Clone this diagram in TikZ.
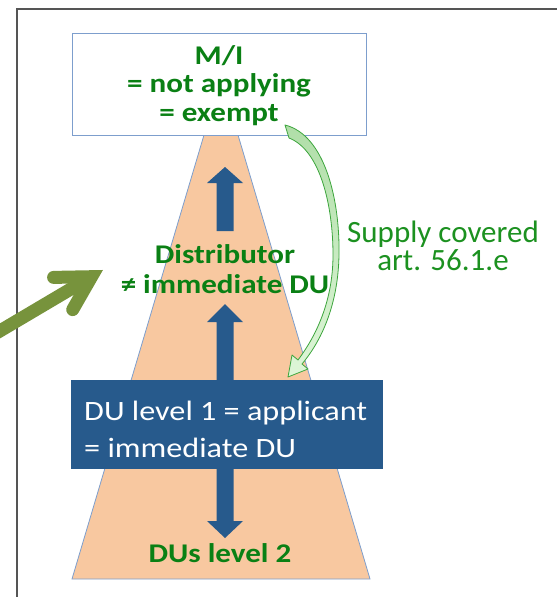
\documentclass[tikz,border=0pt]{standalone}
\usepackage{fontspec}
\setmainfont{Carlito}
\newfontfamily\widefont{Carlito}[FakeStretch=1.15]
\usetikzlibrary{shadings}

\definecolor{txtgreen}{RGB}{10,128,20}
\definecolor{notegreen}{RGB}{28,145,32}
\definecolor{peach}{RGB}{248,200,160}
\definecolor{edgeblue}{RGB}{125,158,205}
\definecolor{dublue}{RGB}{39,90,140}
\definecolor{olivearrow}{RGB}{119,147,60}
\definecolor{curvefillA}{RGB}{176,222,168}
\definecolor{curvefillB}{RGB}{222,246,216}
\definecolor{curvedraw}{RGB}{60,165,60}
\definecolor{framegray}{RGB}{85,85,85}

\tikzset{
  lbl/.style={text=txtgreen, align=center, inner sep=0pt},
  boldlbl/.style={lbl, font=\widefont\fontsize{27}{28.5}\selectfont\bfseries},
  blockarrow/.style={fill=dublue, draw=none},
}

\begin{document}
\begin{tikzpicture}[x=1pt, y=-1pt]
  \useasboundingbox (0,0) rectangle (557,597);

  % outer frame (top and left edges only are visible)
  \draw[framegray, line width=2pt] (17,597) -- (17,9) -- (557,9);

  % supply chain pyramid
  \draw[fill=peach, draw=edgeblue, line width=0.8pt]
    (204,135) -- (238,135) -- (370,579) -- (72,579) -- cycle;

  % top box
  \node[draw=edgeblue, fill=white, line width=0.8pt, minimum width=294pt,
        minimum height=102pt, inner sep=0pt] (mi) at (219,84) {};
  \node[boldlbl] (mitxt) at (219,85.5) {M/I\\= not applying\\= exempt};

  % level 1 box
  \node[fill=dublue, minimum width=312pt, minimum height=89pt, inner sep=0pt]
    (du1) at (227,424.5) {};
  \node[anchor=west, text=white, align=left, inner sep=0pt,
        font=\widefont\fontsize{28}{37}\selectfont] (du1txt) at (84,429)
    {DU level 1 = applicant\\= immediate DU};

  % blue block arrows
  \coordinate (a1t) at (225,167);
  \fill[blockarrow] (216.5,231) -- (216.5,183) -- (207,183) -- (a1t)
     -- (243,183) -- (233.5,183) -- (233.5,231) -- cycle;
  \coordinate (a2t) at (225,304);
  \fill[blockarrow] (216.5,380) -- (216.5,322) -- (207,322) -- (a2t)
     -- (243,322) -- (233.5,322) -- (233.5,380) -- cycle;
  \coordinate (a3t) at (225,538);
  \fill[blockarrow] (216.5,468) -- (216.5,521) -- (207,521) -- (a3t)
     -- (243,521) -- (233.5,521) -- (233.5,468) -- cycle;

  % labels inside the pyramid
  \node[boldlbl, font=\widefont\fontsize{27}{30}\selectfont\bfseries]
    (dist) at (225,269.5) {Distributor\\≠ immediate DU};
  \node[boldlbl] (du2) at (220,553) {DUs level 2};

  % curved supply arrow
  \path[top color=curvefillA, bottom color=curvefillB, draw=curvedraw,
        line width=0.8pt, line join=round]
    (285,125) .. controls (325,135) and (340,200) .. (339,255)
              .. controls (338,310) and (318,345) .. (302,364)
    -- (308,369) -- (288,377) -- (292,355) -- (298,360)
              .. controls (313,340) and (333,305) .. (333,255)
              .. controls (333,205) and (320,150) .. (289,138)
    -- cycle;
  \node[lbl, text=notegreen, font=\fontsize{31}{28}\selectfont] (supply)
    at (443,246) {Supply covered\\art. 56.1.e};

  % olive pointer arrow
  \coordinate (pvertex) at (91.6,276.7);
  \draw[olivearrow, line width=13pt] (-10,336.8) -- (pvertex);
  \draw[olivearrow, line width=13pt, line cap=round, line join=miter,
        miter limit=10]
    (53.6,277.4) -- (pvertex) -- (72.7,309.6);
\end{tikzpicture}
\end{document}
